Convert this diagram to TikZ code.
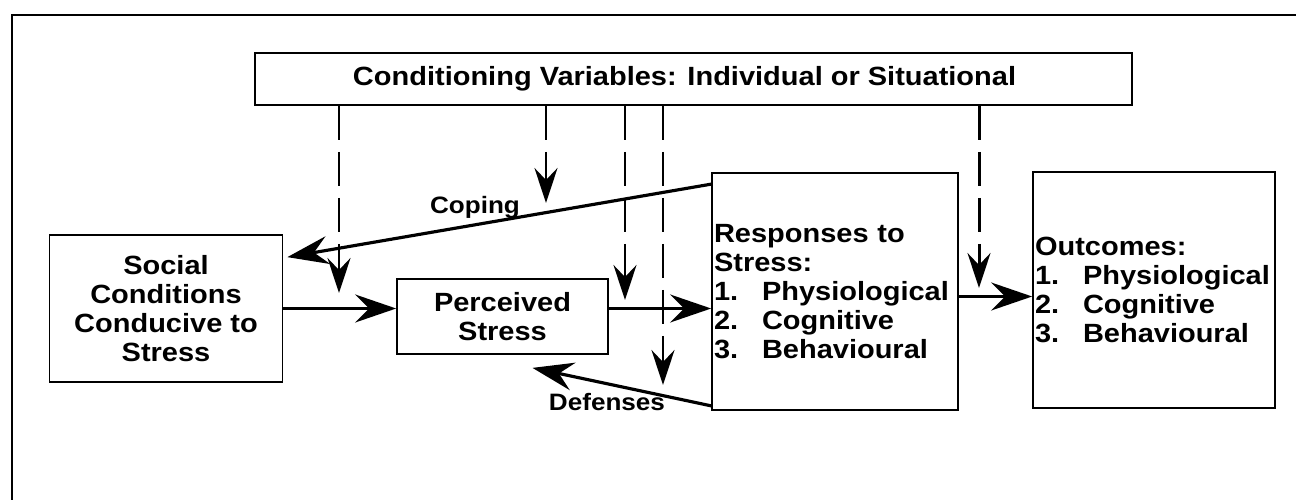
\documentclass[tikz,border=0pt]{standalone}
\usepackage{fontspec}
\setmainfont{Liberation Sans}[FakeStretch=1.1]
\usepackage{tikz}
\usetikzlibrary{arrows.meta,calc}

\newcommand{\lnum}[1]{\makebox[0.96cm][l]{#1}}

\begin{document}
\begin{tikzpicture}[
    x=0.02cm, y=-0.02cm,
    every node/.style={font=\bfseries\fontsize{15}{16.5}\selectfont},
    box/.style={draw, line width=1pt, inner sep=0pt},
    flow/.style={line width=1.8pt, -{Stealth[length=0.82cm, width=0.56cm, inset=0.28cm]}},
    modline/.style={line width=1.7pt, dash pattern=on 0.68cm off 0.24cm,
        -{Stealth[length=0.7cm, width=0.46cm, inset=0.24cm]}},
    lbl/.style={font=\bfseries\fontsize{13.5}{15}\selectfont, inner sep=0pt},
]
\useasboundingbox (0,0) rectangle (1296,500);

% outer frame, only its top and left edges are on the page
\draw[line width=1pt] (12,500) -- (12,15) -- (1296,15);

% =====================================================================
% Boxes
% =====================================================================
\node[box, minimum width=17.54cm, minimum height=1.04cm] (condvar) at (693.5,79)
    {Conditioning Variables: Individual or Situational\hspace*{0.36cm}};

\node[box, minimum width=4.66cm, minimum height=2.94cm, align=center] (social) at (166,308.5)
    {Social\\Conditions\\Conducive to\\Stress};

\node[box, minimum width=4.22cm, minimum height=1.5cm, align=center] (perceived) at (502.5,316.5)
    {Perceived\\Stress};

\node[box, text width=4.84cm, inner xsep=0.04cm, minimum height=4.74cm, align=left] (responses) at (835,291.5)
    {Responses to\\Stress:\\\lnum{1.}Physiological\\\lnum{2.}Cognitive\\\lnum{3.}Behavioural};

\node[box, text width=4.76cm, inner xsep=0.04cm, minimum height=4.72cm, align=left] (outcomes) at (1154,290)
    {Outcomes:\\\lnum{1.}Physiological\\\lnum{2.}Cognitive\\\lnum{3.}Behavioural};

% =====================================================================
% Conditioning variables: dashed arrows down
% =====================================================================
\foreach \name/\x/\y in {m1/339/293, m2/546/203, m3/625/300, m4/663/385, m5/979/288}
    \coordinate (\name) at (\x,\y);
\foreach \name in {m1,m2,m3,m4,m5}
    \draw[modline] (condvar.south -| \name) -- (\name);

% =====================================================================
% Main flow and feedback
% =====================================================================
\draw[flow] (social.east) -- (social.east -| perceived.west);
\draw[flow] (perceived.east |- social.east) -- (responses.west |- social.east);
\draw[flow] ([yshift=-0.1cm]responses.east) -- ([yshift=-0.1cm]responses.east -| outcomes.west);

% coping back to the social conditions
\draw[flow] ([yshift=-0.24cm]responses.north west) -- ([xshift=0.08cm, yshift=-0.46cm]social.north east);
\node[lbl] (coping) at (475,207) {Coping};

% defenses back to perceived stress
\coordinate (defend) at ($(perceived.south)+(30,13)$);
\draw[flow] ([yshift=0.1cm]responses.south west) -- (defend);
\node[lbl] (defenses) at (607,402) {Defenses};

\end{tikzpicture}
\end{document}
